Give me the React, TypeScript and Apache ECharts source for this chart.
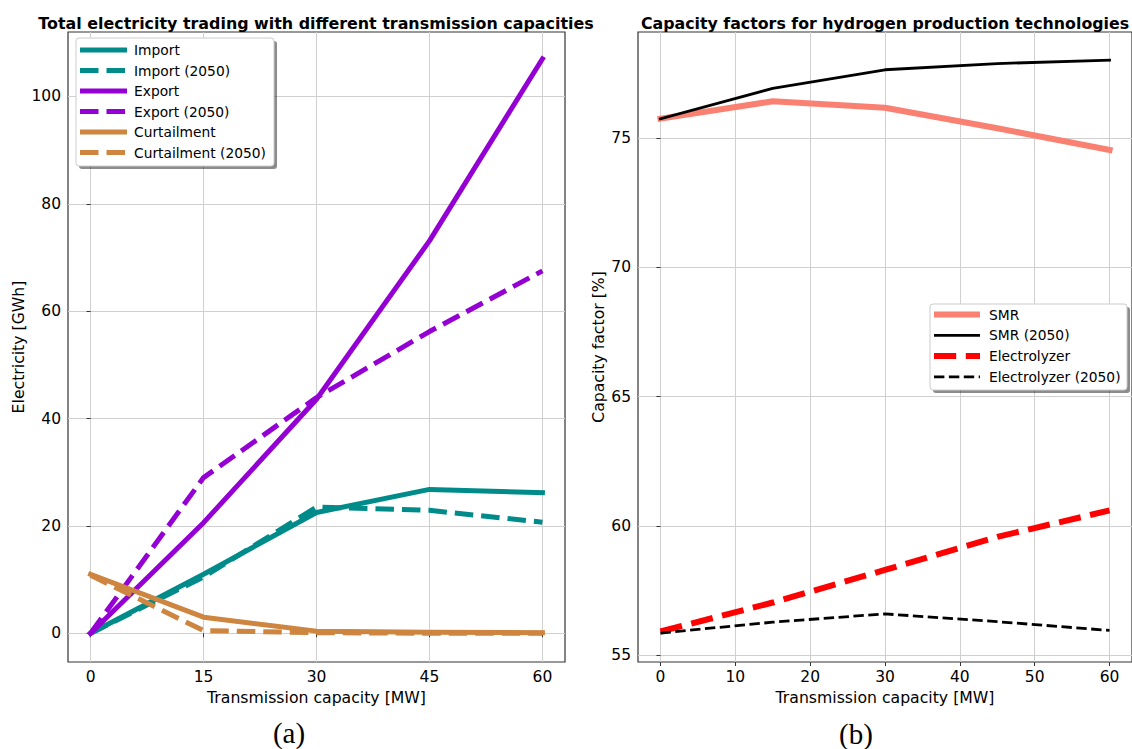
import React, { useEffect, useRef } from "react";
import * as echarts from "echarts";

// ---- data ----
const capacities = [0, 15, 30, 45, 60];

const importVals = [0, 11.0, 22.5, 26.8, 26.2];
const import2050 = [0, 10.5, 23.5, 22.9, 20.7];
const exportVals = [0, 20.6, 43.6, 73.1, 107.0];
const export2050 = [0, 29.0, 43.9, 56.2, 67.5];
const curtailVals = [11.0, 3.0, 0.4, 0.2, 0.1];
const curtail2050 = [10.8, 0.5, 0.1, 0.0, 0.0];

const smrVals = [75.75, 76.42, 76.17, 75.38, 74.54];
const smr2050 = [75.74, 76.92, 77.64, 77.88, 78.01];
const elecVals = [55.92, 57.04, 58.3, 59.58, 60.6];
const elec2050 = [55.86, 56.28, 56.6, 56.3, 55.96];

const leftXTicks = [0, 15, 30, 45, 60];
const leftYTicks = [0, 20, 40, 60, 80, 100];
const rightXTicks = [0, 10, 20, 30, 40, 50, 60];
const rightYTicks = [55, 60, 65, 70, 75];

const leftNames = ["Import", "Import (2050)", "Export", "Export (2050)", "Curtailment", "Curtailment (2050)"];
const rightNames = ["SMR", "SMR (2050)", "Electrolyzer", "Electrolyzer (2050)"];

// ---- styles ----
const FONT = "DejaVu Sans";
const TEAL = "#008b8b";
const VIOLET = "#9400d3";
const PERU = "#cd853f";
const SALMON = "#fa8072";

type Sty = { color: string; width: number; dash: number[] | null };
const leftStyles: Sty[] = [
  { color: TEAL, width: 5, dash: null },
  { color: TEAL, width: 5, dash: [18.5, 8] },
  { color: VIOLET, width: 5, dash: null },
  { color: VIOLET, width: 5, dash: [18.5, 8] },
  { color: PERU, width: 5, dash: null },
  { color: PERU, width: 5, dash: [18.5, 8] },
];
const rightStyles: Sty[] = [
  { color: SALMON, width: 6, dash: null },
  { color: "#000000", width: 2.8, dash: null },
  { color: "#ff0000", width: 6, dash: [22.2, 9.6] },
  { color: "#000000", width: 2.8, dash: [10.4, 4.5] },
];

const leftData = [importVals, import2050, exportVals, export2050, curtailVals, curtail2050];
const rightData = [smrVals, smr2050, elecVals, elec2050];

function makeSeries(names: string[], data: number[][], styles: Sty[], axisIdx: number) {
  return names.map((name, i) => ({
    type: "line",
    name,
    xAxisIndex: axisIdx,
    yAxisIndex: axisIdx,
    data: capacities.map((c, j) => [c, data[i][j]]),
    showSymbol: false,
    symbol: "none",
    lineStyle: {
      color: styles[i].color,
      width: styles[i].width,
      type: styles[i].dash ? styles[i].dash : "solid",
      cap: styles[i].dash ? "butt" : "square",
      join: "round",
    },
    z: 3 + i * 0.01,
  }));
}

function makeLegend(
  names: string[],
  styles: Sty[],
  box: { x: number; y: number; w: number; h: number },
  firstRow: number,
  step: number,
  lineX1: number,
  lineX2: number,
  textX: number
) {
  const els: any[] = [
    {
      type: "rect",
      z: 100,
      shape: { x: box.x + 3, y: box.y + 3, width: box.w, height: box.h, r: 3 },
      style: { fill: "rgba(0,0,0,0.45)" },
    },
    {
      type: "rect",
      z: 101,
      shape: { x: box.x, y: box.y, width: box.w, height: box.h, r: 3 },
      style: { fill: "#ffffff", stroke: "#cccccc", lineWidth: 1 },
    },
  ];
  names.forEach((n, i) => {
    const y = firstRow + i * step;
    els.push({
      type: "line",
      z: 102,
      shape: { x1: lineX1, y1: y, x2: lineX2, y2: y },
      style: {
        stroke: styles[i].color,
        lineWidth: styles[i].width,
        lineDash: styles[i].dash ? styles[i].dash : null,
        lineCap: "butt",
      },
    });
    els.push({
      type: "text",
      z: 102,
      x: textX,
      y: y,
      style: {
        text: n,
        fill: "#000",
        fontSize: 13.8,
        fontFamily: FONT,
        verticalAlign: "middle",
        align: "left",
      },
    });
  });
  return els;
}

function axisCommon(ticks: number[], min: number, max: number, isX: boolean, name: string, nameGap: number) {
  return {
    type: "value",
    min,
    max,
    name,
    nameLocation: "middle",
    nameGap,
    nameTextStyle: { fontSize: 15.7, fontFamily: FONT, color: "#000" },
    axisLine: { show: false },
    axisTick: {
      show: true,
      length: 4,
      inside: false,
      customValues: ticks,
      lineStyle: { color: "#333", width: 1 },
    },
    axisLabel: {
      customValues: ticks,
      fontSize: 15.5,
      fontFamily: FONT,
      color: "#000",
      margin: isX ? 7 : 7,
    },
    splitLine: { show: true, lineStyle: { color: "#d0d0d0", width: 1 } },
  };
}

export default function App() {
  const ref = useRef<HTMLDivElement>(null);
  useEffect(() => {
    if (!ref.current) return;
    const chart = echarts.init(ref.current, null, { renderer: "svg" });
    const option: any = {
      animation: false,
      backgroundColor: "#ffffff",
      title: [
        {
          text: "Total electricity trading with different transmission capacities",
          left: 311,
          top: 10,
          textAlign: "center",
          textStyle: { fontSize: 15.9, fontWeight: "bold", fontFamily: FONT, color: "#000" },
        },
        {
          text: "Capacity factors for hydrogen production technologies",
          left: 880,
          top: 10,
          textAlign: "center",
          textStyle: { fontSize: 15.8, fontWeight: "bold", fontFamily: FONT, color: "#000" },
        },
      ],
      grid: [
        { left: 68, top: 32, width: 497, height: 630, show: true, borderColor: "#333", borderWidth: 1.2, backgroundColor: "transparent" },
        { left: 638, top: 32, width: 497, height: 630, show: true, borderColor: "#333", borderWidth: 1.2, backgroundColor: "transparent" },
      ],
      xAxis: [
        { ...axisCommon(leftXTicks, -3, 63, true, "Transmission capacity [MW]", 25), gridIndex: 0 },
        { ...axisCommon(rightXTicks, -3, 63, true, "Transmission capacity [MW]", 25), gridIndex: 1 },
      ],
      yAxis: [
        { ...axisCommon(leftYTicks, -5.35, 112.0, false, "Electricity [GWh]", 42), gridIndex: 0 },
        { ...axisCommon(rightYTicks, 54.74, 79.1, false, "Capacity factor [%]", 32), gridIndex: 1 },
      ],
      series: [
        ...makeSeries(leftNames, leftData, leftStyles, 0),
        ...makeSeries(rightNames, rightData, rightStyles, 1),
      ],
      graphic: [
        ...makeLegend(leftNames, leftStyles, { x: 76, y: 38, w: 198, h: 128 }, 50, 20.5, 80, 127, 134),
        ...makeLegend(rightNames, rightStyles, { x: 930, y: 304, w: 197, h: 86 }, 314.5, 20.8, 934, 980, 989),
        {
          type: "text",
          x: 289,
          y: 733,
          style: { text: "(a)", fontSize: 29, fontFamily: "Liberation Serif", fill: "#000", align: "center", verticalAlign: "middle" },
        },
        {
          type: "text",
          x: 856,
          y: 734,
          style: { text: "(b)", fontSize: 29, fontFamily: "Liberation Serif", fill: "#000", align: "center", verticalAlign: "middle" },
        },
      ],
    };
    chart.setOption(option);
    return () => chart.dispose();
  }, []);
  return <div ref={ref} style={{ position: "absolute", left: 0, top: 0, width: 1132, height: 749 }} />;
}
